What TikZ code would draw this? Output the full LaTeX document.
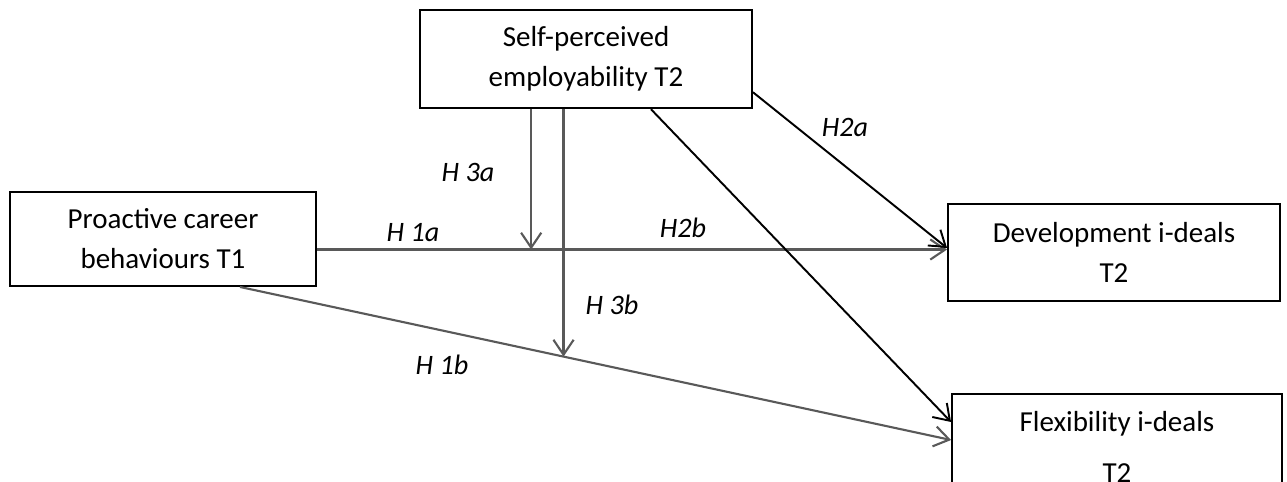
\documentclass[tikz,border=0pt]{standalone}
\usepackage{fontspec}
\setmainfont{Carlito}
\usetikzlibrary{arrows.meta}
\definecolor{linegray}{RGB}{89,89,89}

\begin{document}
\begin{tikzpicture}[x=0.02cm,y=-0.02cm,
  box/.style={draw,line width=1.1pt,align=center,inner sep=0pt,
    font=\fontsize{16.5}{22.8}\selectfont},
  hyp/.style={font=\fontsize{16}{19}\selectfont\itshape},
  link/.style={->,line width=1.2pt,linegray},
  >={Straight Barb[length=8.5pt,width=11.5pt]}]
\useasboundingbox (0,0) rectangle (1287,481);

\node[box,minimum width=6.64cm,minimum height=1.97cm] (spe) at (586,59) {Self-perceived\\employability T2};
\node[box,minimum width=6.12cm,minimum height=1.88cm] (pcb) at (163,239) {Proactive career\\behaviours T1};
\node[box,minimum width=6.64cm,minimum height=1.94cm] (dev) at (1114,252.5) {Development i-deals\\T2};
\node[box,minimum width=6.6cm,minimum height=2.11cm] (flex) at (1117,447) {Flexibility i-deals\\[6pt]T2};

\draw[link] ([yshift=0.06cm]dev.west -| pcb.east) -- ([yshift=0.06cm]dev.west) coordinate[pos=0.34] (m1);
\draw[link] ([xshift=1.54cm]pcb.south) -- ([yshift=0.14cm]flex.west) coordinate[pos=0.455] (m2);
\draw[link] (m1 |- spe.south) -- (m1);
\draw[link] (m2 |- spe.south) -- (m2);
\draw[->,line width=1.1pt,black] ([yshift=0.34cm]spe.south east) -- ([yshift=0.09cm]dev.west);
\draw[->,line width=1.1pt,black] ([xshift=1.3cm]spe.south) -- ([yshift=0.5cm]flex.west);

\node[hyp] (h3a) at (468,172) {H 3a};
\node[hyp] (h1a) at (413,233) {H 1a};
\node[hyp] (h2b) at (683,228) {H2b};
\node[hyp] (h2a) at (845,127) {H2a};
\node[hyp] (h3b) at (612,305) {H 3b};
\node[hyp] (h1b) at (442,365) {H 1b};
\end{tikzpicture}
\end{document}
